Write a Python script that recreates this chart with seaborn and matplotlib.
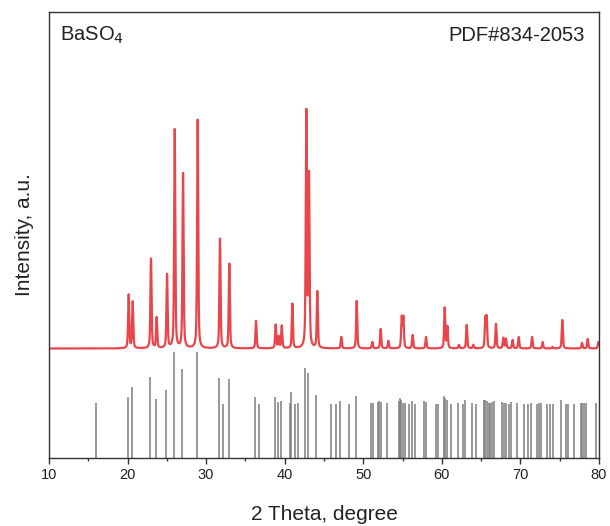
import numpy as np
import pandas as pd
import matplotlib
matplotlib.use("Agg")
import matplotlib.pyplot as plt
from matplotlib.ticker import MultipleLocator
import seaborn as sns

# ---- data (intensity in arbitrary units) ----
baseline_level = 109.5
peak_pos = [20.14, 20.65, 22.98, 23.70, 25.02, 26.00, 27.06, 28.92, 31.76, 32.95,
            36.35, 38.85, 39.23, 39.62, 40.97, 42.75, 43.09, 44.15, 47.20, 49.16,
            51.15, 52.21, 53.19, 54.89, 55.10, 56.28, 57.98, 60.36, 60.70, 62.18,
            63.16, 64.00, 65.53, 65.70, 66.89, 67.82, 68.16, 69.00, 69.78, 71.48,
            72.83, 74.10, 75.33, 77.84, 78.56, 79.92]
peak_top = [163, 156, 199, 140, 183, 328, 284, 338, 219, 194,
            137, 133, 121, 132, 154, 344, 280, 166, 121, 157,
            116, 129, 117, 140, 140, 123, 121, 150, 131, 113,
            133, 113, 138, 139, 134, 120, 119, 118, 121, 121,
            116, 111, 138, 115, 119, 116]

# reference pattern PDF#834-2053 (stick positions and heights)
ref_pos = [15.94, 20.01, 20.52, 22.85, 23.62, 24.89, 25.91, 26.93, 28.80, 31.60,
           32.15, 32.90, 36.18, 36.73, 38.76, 39.10, 39.49, 40.63, 40.80, 41.31,
           41.65, 42.58, 42.92, 43.98, 45.89, 46.57, 47.04, 48.22, 49.07, 50.98,
           51.20, 51.87, 52.04, 52.25, 53.02, 54.50, 54.67, 54.84, 55.10, 55.35,
           55.86, 56.20, 56.62, 57.77, 57.98, 59.30, 59.55, 60.23, 60.44, 60.65,
           61.13, 62.10, 62.69, 62.95, 63.84, 64.35, 65.33, 65.54, 65.71, 65.97,
           66.18, 66.43, 66.64, 67.62, 67.87, 68.13, 68.55, 68.76, 69.61, 70.46,
           70.97, 71.31, 72.08, 72.37, 72.67, 73.42, 73.77, 74.19, 75.21, 75.81,
           76.06, 76.82, 77.66, 77.87, 78.08, 78.33, 79.57]
ref_h = [55, 61, 71, 81, 59, 68, 106, 89, 106, 80,
         54, 79, 61, 54, 61, 56, 57, 55, 66, 54,
         55, 90, 85, 63, 54, 54, 57, 54, 62, 55,
         55, 56, 57, 56, 55, 57, 60, 58, 55, 55,
         54, 57, 54, 57, 56, 54, 54, 62, 60, 58,
         54, 55, 54, 58, 55, 54, 58, 58, 57, 55,
         55, 56, 57, 56, 55, 55, 54, 56, 55, 54,
         54, 55, 54, 55, 55, 54, 54, 54, 58, 54,
         54, 54, 55, 55, 55, 55, 55]

x_ticks = [10, 20, 30, 40, 50, 60, 70, 80]

# ---- build measured profile from the read peak list ----
two_theta = np.arange(10.0, 80.0001, 0.01)
fwhm = 0.17
eta = 0.5
hw = fwhm / 2.0
inten = np.full_like(two_theta, baseline_level)
for p, t in zip(peak_pos, peak_top):
    amp = t - baseline_level
    d = two_theta - p
    lor = 1.0 / (1.0 + (d / hw) ** 2)
    gau = np.exp(-np.log(2) * (d / hw) ** 2)
    inten += amp * (eta * lor + (1 - eta) * gau)
df = pd.DataFrame({"two_theta": two_theta, "intensity": inten})

# ---- plot ----
sns.set_theme(style="white")
plt.rcParams["font.family"] = ["Liberation Sans", "DejaVu Sans"]

fig = plt.figure(figsize=(6.10, 5.26), dpi=100)
ax = fig.add_axes([49 / 610, 1 - 458 / 526, 550 / 610, 446 / 526])

ax.vlines(ref_pos, 0, ref_h, colors="#7d7d7d", linewidth=1.1)
sns.lineplot(data=df, x="two_theta", y="intensity", ax=ax, color="#e8464a",
             linewidth=1.6, estimator=None, errorbar=None, sort=False)

ax.set_xlim(10, 80)
ax.set_ylim(0, 446)
ax.set_xticks(x_ticks)
ax.xaxis.set_minor_locator(MultipleLocator(5))
ax.set_yticks([])
ax.tick_params(axis="x", which="major", direction="out", length=4, width=1,
               color="#333333", labelsize=10.5, labelcolor="#222222", pad=3, bottom=True)
ax.tick_params(axis="x", which="minor", direction="out", length=2.5, width=1,
               color="#333333", bottom=True)
for s in ax.spines.values():
    s.set_color("#333333")
    s.set_linewidth(1.0)

ax.set_xlabel("2 Theta, degree", fontsize=15, color="#222222", labelpad=17)
ax.set_ylabel("Intensity, a.u.", fontsize=15, color="#222222", labelpad=11)

ax.text(0.02, 0.935, r"BaSO$_4$", transform=ax.transAxes, fontsize=14.5,
        color="#222222", ha="left", va="baseline")
ax.text(0.975, 0.935, "PDF#834-2053", transform=ax.transAxes, fontsize=14.5,
        color="#222222", ha="right", va="baseline")

fig.savefig("out.png", dpi=100)
